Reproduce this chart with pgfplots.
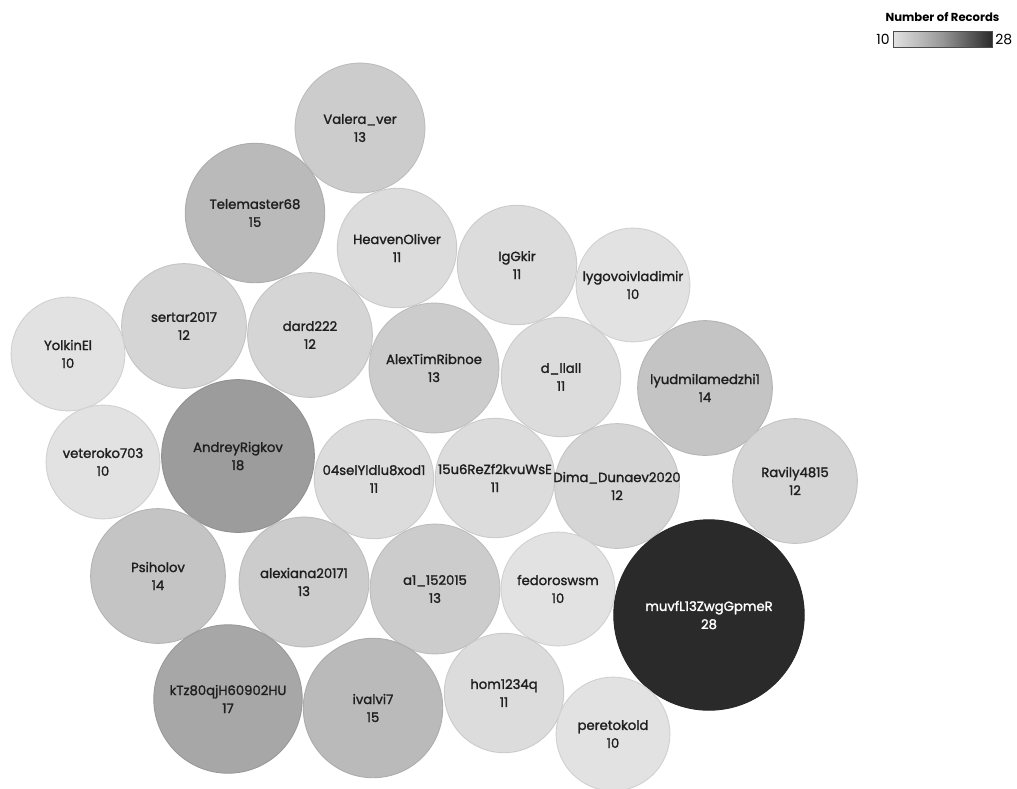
\documentclass[border=0pt]{standalone}
\usepackage{pgfplots}
\pgfplotsset{compat=1.18}
\usepackage{fontspec}
\setmainfont{Poppins}
\newfontfamily\labfont{Poppins}[FakeBold=1.6]

% grey level for a value v (10 -> light, 28 -> dark)
\newcommand\defbubcolor[1]{%
  \pgfmathsetmacro\bubgray{226-184*((#1-10)/18)^1.2}%
  \pgfmathsetmacro\bubpct{(255-\bubgray)/2.55}%
  \colorlet{bubv#1}{black!\bubpct!white}%
}
% \bubble{x}{y}{value}{label}{text colour}
\newcommand\bubble[5]{%
  \defbubcolor{#3}%
  \addplot[only marks, mark=*, line width=0.45pt,
    mark size={9*sqrt(#3)},
    mark options={fill=bubv#3, draw=bubv#3!92!black},
    point meta=explicit,
    nodes near coords={#4\\#3},
    every node near coord/.append style={anchor=center, align=center,
      font=\labfont\fontsize{6.6}{9}\selectfont, inner sep=0pt, text=#5}]
    coordinates {(#1,#2) [#3]};%
}

\begin{document}
\begin{tikzpicture}
\begin{axis}[
  name=main,
  scale only axis,
  width=508.5pt, height=394pt,
  xmin=0, xmax=1017, ymin=0, ymax=788,
  y dir=reverse,
  hide axis,
  clip=false,
  colormap={gr}{rgb255=(226,226,226) rgb255=(190,190,190) rgb255=(150,150,150) rgb255=(95,95,95) rgb255=(42,42,42)},
  point meta min=10, point meta max=28,
  colorbar horizontal,
  colorbar style={
    at={(main.north west)}, anchor=north west,
    xshift=446.5pt, yshift=-7pt,
    scale only axis,
    width=49.5pt, height=8pt,
    xtick=\empty,
    axis line style={draw=black!70, line width=0.5pt},
    title={\textbf{Number of Records}},
    title style={font=\fontsize{5.8}{7}\selectfont, yshift=-5pt},
    after end axis/.code={
      \node[anchor=east, font=\fontsize{7}{8}\selectfont, inner sep=1.5pt] at (rel axis cs:0,0.5) {10};
      \node[anchor=west, font=\fontsize{7}{8}\selectfont, inner sep=1.5pt] at (rel axis cs:1,0.5) {28};
    },
  },
]
\bubble{360}{128}{13}{Valera\_ver}{black!88}
\bubble{255}{213}{15}{Telemaster68}{black!88}
\bubble{397}{248}{11}{HeavenOliver}{black!88}
\bubble{517}{265}{11}{IgGkir}{black!88}
\bubble{633}{285}{10}{lygovoivladimir}{black!88}
\bubble{184}{326}{12}{sertar2017}{black!88}
\bubble{310}{335}{12}{dard222}{black!88}
\bubble{68}{354}{10}{YolkinEl}{black!88}
\bubble{434}{368}{13}{AlexTimRibnoe}{black!88}
\bubble{561}{377}{11}{d\_llall}{black!88}
\bubble{705}{388}{14}{lyudmilamedzhi1}{black!88}
\bubble{103}{462}{10}{veteroko703}{black!88}
\bubble{238}{456}{18}{AndreyRigkov}{black!88}
\bubble{374}{479}{11}{04selYldlu8xod1}{black!88}
\bubble{495}{478}{11}{15u6ReZf2kvuWsE}{black!88}
\bubble{617}{486}{12}{Dima\_Dunaev2020}{black!88}
\bubble{795}{481}{12}{Ravily4815}{black!88}
\bubble{158}{576}{14}{Psiholov}{black!88}
\bubble{304}{582}{13}{alexiana20171}{black!88}
\bubble{435}{589}{13}{a1\_152015}{black!88}
\bubble{558}{589}{10}{fedoroswsm}{black!88}
\bubble{709}{615}{28}{muvfL13ZwgGpmeR}{white}
\bubble{228}{699}{17}{kTz80qjH60902HU}{black!88}
\bubble{373}{708}{15}{ivalvi7}{black!88}
\bubble{504}{693}{11}{hom1234q}{black!88}
\bubble{613}{734}{10}{peretokold}{black!88}
\end{axis}
\pgfresetboundingbox
\path (main.south west) rectangle (main.north east);
\end{tikzpicture}
\end{document}
